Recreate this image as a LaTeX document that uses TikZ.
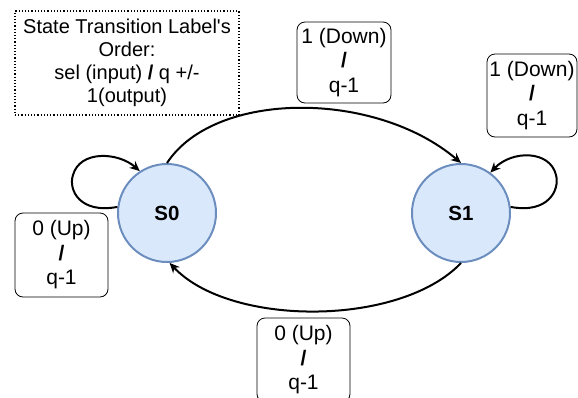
\documentclass[tikz,border=0pt]{standalone}
\usepackage{fontspec}
\setmainfont{Liberation Sans}
\usetikzlibrary{arrows.meta}
\definecolor{stfill}{HTML}{DAE8FC}
\definecolor{stline}{HTML}{6C8EBF}
\begin{document}
\begin{tikzpicture}[x=1pt,y=-1pt,
 state/.style={circle,draw=stline,fill=stfill,line width=2pt,minimum size=98pt,inner sep=0pt,font=\fontsize{20.5}{24}\selectfont\bfseries},
 lbl/.style={draw,rounded corners=8pt,line width=0.8pt,align=center,inner sep=0pt,font=\fontsize{21}{24.5}\selectfont},
 note/.style={draw,dash pattern=on 1.2pt off 2pt,line width=1.2pt,align=center,inner sep=0pt,font=\fontsize{20}{23}\selectfont},
 trans/.style={line width=2pt,-{Stealth[length=10pt,width=9pt]}},
]
\useasboundingbox (0,0) rectangle (578,397);

\node[note,minimum width=224pt,minimum height=104pt] (legend) at (127,63) {State Transition Label\textquotesingle s\\Order:\\sel (input) \textbf{/} q +/-\\1(output)};

\node[state] (s0) at (167,213) {S0};
\node[state] (s1) at (461,213) {S1};

\node[lbl,minimum width=94pt,minimum height=81pt] (l01) at (344,62.5) {1 (Down)\\\textbf{/}\\q-1};
\node[lbl,minimum width=90pt,minimum height=83pt] (l11) at (532,95.5) {1 (Down)\\\textbf{/}\\q-1};
\node[lbl,minimum width=93pt,minimum height=84pt] (l00) at (61.5,255) {0 (Up)\\\textbf{/}\\q-1};
\node[lbl,minimum width=93pt,minimum height=84pt] (l10) at (303.5,360) {0 (Up)\\\textbf{/}\\q-1};

\draw[trans] (s0.north) .. controls (215,90) and (375,90) .. (s1.north);
\draw[trans] (s1.south) .. controls (400,327) and (230,327) .. (s0.-87);
\draw[trans] (s0.173) .. controls (80,214) and (68,190) .. (73,175) .. controls (80,150) and (118,152) .. (s0.123);
\draw[trans] (s1.7) .. controls (548,214) and (560,190) .. (556,175) .. controls (550,150) and (512,150) .. (s1.54);
\end{tikzpicture}
\end{document}
